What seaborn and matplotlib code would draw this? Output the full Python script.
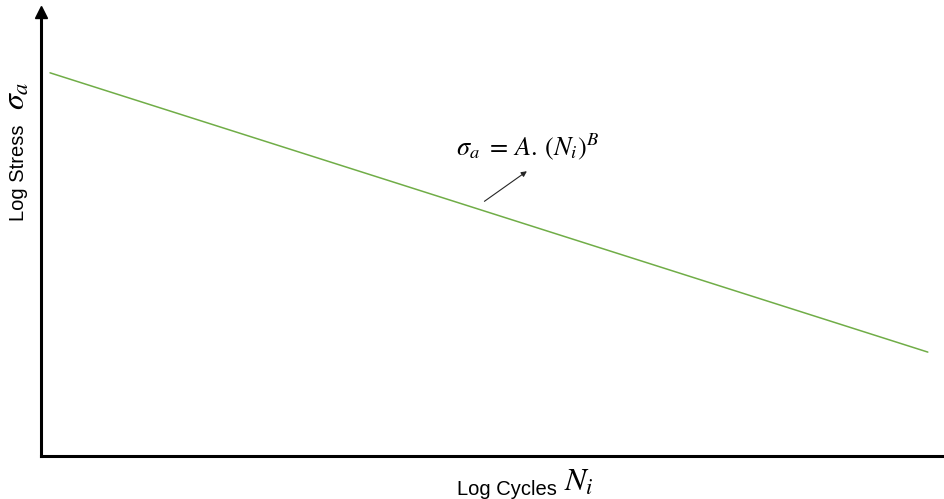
import matplotlib
matplotlib.use("Agg")
import matplotlib.pyplot as plt
import seaborn as sns
import pandas as pd

sns.set_theme(style="white")
plt.rcParams["font.family"] = ["Liberation Sans", "DejaVu Sans"]
plt.rcParams["mathtext.fontset"] = "stix"
plt.rcParams["text.color"] = "black"

# S-N curve on log-log axes (arbitrary units)
log_cycles = [0.10, 9.81]
log_stress = [8.63, 2.34]
df = pd.DataFrame({"log_cycles": log_cycles, "log_stress": log_stress})

W, H = 945, 499
fig = plt.figure(figsize=(W / 100, H / 100), dpi=100)
ax = fig.add_axes([41 / W, 43 / H, 904 / W, 444 / H])

sns.lineplot(data=df, x="log_cycles", y="log_stress", color="#70AD47",
             linewidth=1.1, ax=ax)

ax.set_xlim(0, 10)
ax.set_ylim(0, 10)
ax.set_xticks([])
ax.set_yticks([])
ax.set_xlabel("")
ax.set_ylabel("")
for side in ("top", "right"):
    ax.spines[side].set_visible(False)
for side in ("left", "bottom"):
    ax.spines[side].set_color("black")
    ax.spines[side].set_linewidth(2.2)

# arrowhead on the stress axis
ax.plot(0, 1, marker="^", color="black", markersize=8,
        transform=ax.transAxes, clip_on=False)

# Basquin relation with pointer to the curve
ax.annotate("", xy=(5.4, 6.45), xytext=(4.88, 5.7),
            arrowprops=dict(arrowstyle="-|>", color="#262626", lw=0.8,
                            mutation_scale=8))
ax.text(5.38, 6.96, r"$\sigma_a\ =\, A.\,(N_i)^B$", fontsize=19,
        ha="center", va="center")


def fx(px):
    return px / W


def fy(py):
    return 1 - py / H


# axis titles: plain words plus a larger math symbol
fig.text(fx(557), fy(495), "Log Cycles", fontsize=14.5,
         ha="right", va="baseline")
fig.text(fx(564), fy(491), r"$N_i$", fontsize=23,
         ha="left", va="baseline")

fig.text(fx(24), fy(221), "Log Stress", fontsize=14.5, rotation=90,
         rotation_mode="anchor", ha="left", va="baseline")
fig.text(fx(25), fy(110), r"$\sigma_a$", fontsize=23, rotation=90,
         rotation_mode="anchor", ha="left", va="baseline")

fig.savefig("out.png", dpi=100)
